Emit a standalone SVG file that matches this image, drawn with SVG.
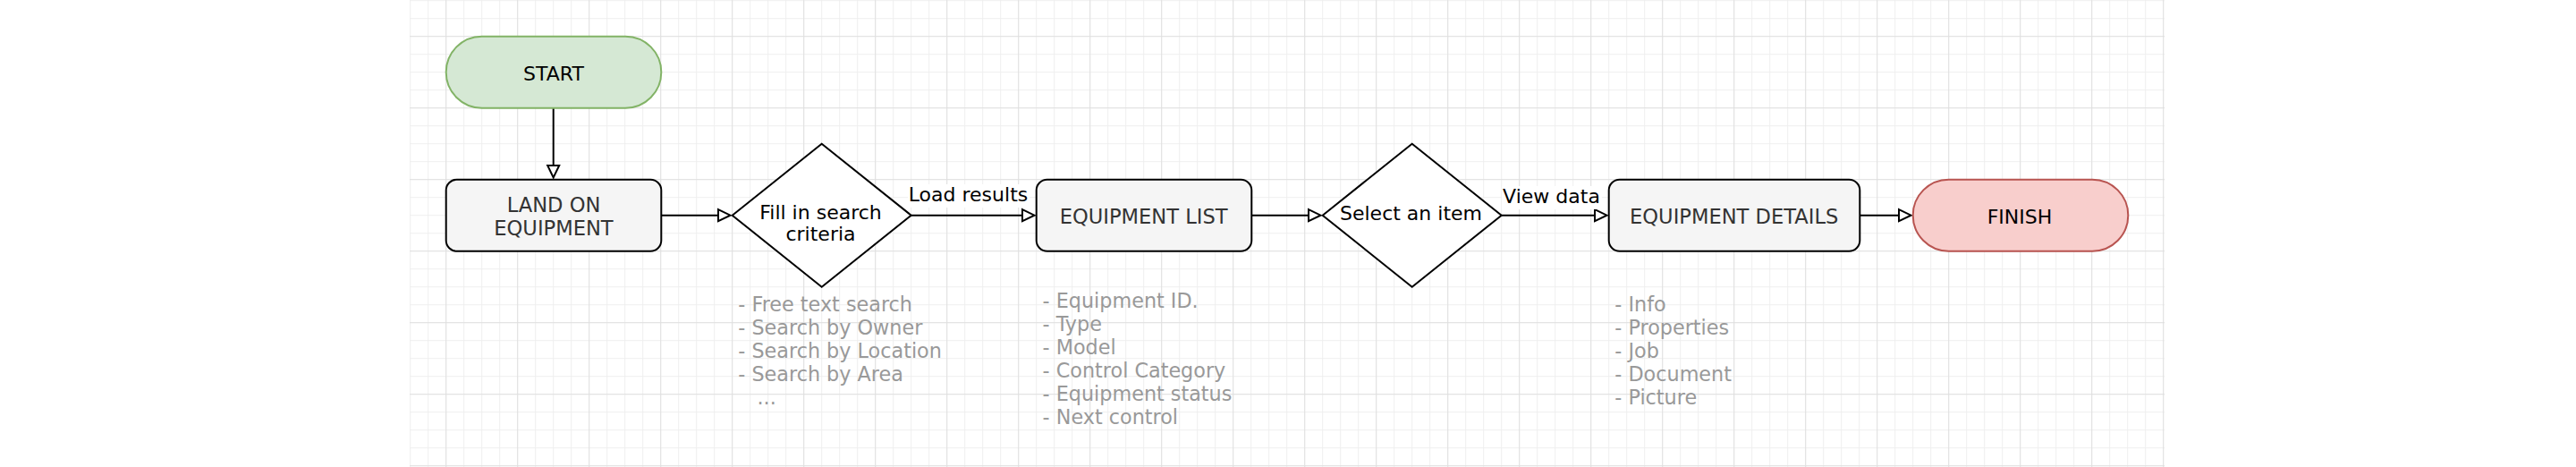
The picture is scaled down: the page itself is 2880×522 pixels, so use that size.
<svg xmlns="http://www.w3.org/2000/svg" width="2880" height="522" viewBox="0 0 2880 522">
<style>
text{font-family:"DejaVu Sans",Verdana,sans-serif;font-size:22px}
.c{text-anchor:middle}
.dark{fill:#333333;font-size:22.6px}
.blk{fill:#000000}
.note{fill:#999999;font-size:22.3px}
.proc{fill:#f5f5f5;stroke:#000000;stroke-width:2}
.dec{fill:#ffffff;stroke:#000000;stroke-width:2}
.edge{stroke:#000000;stroke-width:2;fill:none;marker-end:url(#arr)}
.lbg{fill:#ffffff}
</style>
<defs>
<pattern id="gminor" patternUnits="userSpaceOnUse" x="0" y="0" width="20" height="20">
<path d="M18.7,0V20M0,0.7H20" stroke="#efefef" stroke-width="1" fill="none"/>
</pattern>
<pattern id="gmajor" patternUnits="userSpaceOnUse" x="0" y="0" width="80" height="80">
<path d="M18.7,0V80M0,40.7H80" stroke="#e0e0e0" stroke-width="1" fill="none"/>
</pattern>
<marker id="arr" markerUnits="userSpaceOnUse" viewBox="-3 -10 22 20" markerWidth="22" markerHeight="20" refX="0" refY="0" orient="auto" overflow="visible">
<path d="M0,-6.5L13.5,0L0,6.5Z" fill="#ffffff" stroke="#000000" stroke-width="2"/>
</marker>
</defs>
<rect x="0" y="0" width="2880" height="522" fill="#ffffff"/>
<g id="grid">
<rect x="458" y="0" width="1962" height="522" fill="url(#gminor)"/>
<rect x="458" y="0" width="1962" height="522" fill="url(#gmajor)"/>
</g>
<g id="connectors">
<line class="edge" x1="618.7" y1="120.7" x2="618.7" y2="185"/>
<line class="edge" x1="739.3" y1="240.7" x2="803" y2="240.7"/>
<line class="edge" x1="1018.7" y1="240.7" x2="1143" y2="240.7"/>
<line class="edge" x1="1399.3" y1="240.7" x2="1463" y2="240.7"/>
<line class="edge" x1="1678.7" y1="240.7" x2="1783" y2="240.7"/>
<line class="edge" x1="2079.3" y1="240.7" x2="2123" y2="240.7"/>
<rect class="lbg" x="1015" y="206" width="136" height="26"/>
<text class="c blk" x="1082.5" y="225">Load results</text>
<rect class="lbg" x="1679" y="208" width="112" height="26"/>
<text class="c blk" x="1734.5" y="227">View data</text>
</g>
<g id="start">
<rect x="498.7" y="40.7" width="240.6" height="80" rx="40" ry="40" fill="#d5e8d4" stroke="#82b366" stroke-width="2"/>
<text class="c blk" x="619" y="89.5">START</text>
</g>
<g id="land">
<rect class="proc" x="498.7" y="200.7" width="240.6" height="80" rx="12" ry="12"/>
<text class="c dark" x="619" y="236.7">LAND ON</text>
<text class="c dark" x="619" y="262.7">EQUIPMENT</text>
</g>
<g id="fill_criteria">
<path class="dec" d="M818.7,240.7L918.7,160.7L1018.7,240.7L918.7,320.7Z"/>
<text class="c blk" x="917.5" y="245">Fill in search</text>
<text class="c blk" x="917.5" y="269">criteria</text>
</g>
<g id="equipment_list">
<rect class="proc" x="1158.7" y="200.7" width="240.6" height="80" rx="12" ry="12"/>
<text class="c dark" x="1278.7" y="250">EQUIPMENT LIST</text>
</g>
<g id="select_item">
<path class="dec" d="M1478.7,240.7L1578.7,160.7L1678.7,240.7L1578.7,320.7Z"/>
<text class="c blk" x="1577.5" y="246">Select an item</text>
</g>
<g id="equipment_details">
<rect class="proc" x="1798.7" y="200.7" width="280.6" height="80" rx="12" ry="12"/>
<text class="c dark" x="1938.7" y="250">EQUIPMENT DETAILS</text>
</g>
<g id="finish">
<rect x="2138.7" y="200.7" width="240.6" height="80" rx="40" ry="40" fill="#f8cecc" stroke="#b85450" stroke-width="2"/>
<text class="c blk" x="2258" y="249.5">FINISH</text>
</g>
<g id="notes_search">
<text class="note" x="825.3" y="347.7">- Free text search</text>
<text class="note" x="825.3" y="373.7">- Search by Owner</text>
<text class="note" x="825.3" y="399.7">- Search by Location</text>
<text class="note" x="825.3" y="425.7">- Search by Area</text>
<text class="note" x="846.5" y="451.7">...</text>
</g>
<g id="notes_list">
<text class="note" x="1165.6" y="344">- Equipment ID.</text>
<text class="note" x="1165.6" y="370">- Type</text>
<text class="note" x="1165.6" y="396">- Model</text>
<text class="note" x="1165.6" y="422">- Control Category</text>
<text class="note" x="1165.6" y="448">- Equipment status</text>
<text class="note" x="1165.6" y="474">- Next control</text>
</g>
<g id="notes_details">
<text class="note" x="1805.3" y="347.7">- Info</text>
<text class="note" x="1805.3" y="373.7">- Properties</text>
<text class="note" x="1805.3" y="399.7">- Job</text>
<text class="note" x="1805.3" y="425.7">- Document</text>
<text class="note" x="1805.3" y="451.7">- Picture</text>
</g>
</svg>
